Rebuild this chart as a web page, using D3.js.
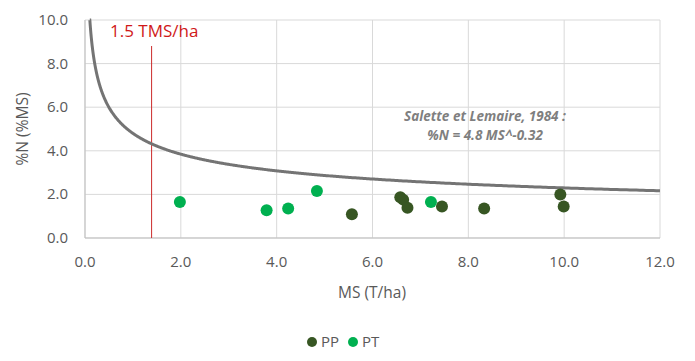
<!DOCTYPE html>
<html><head><meta charset="utf-8">
<script src="https://cdn.jsdelivr.net/npm/d3@7"></script>
<style>body{margin:0;background:#fff;} text{font-family:"Open Sans",sans-serif;}</style>
</head><body>
<svg id="c" width="695" height="361"></svg>
<script>
const ppX = [5.57, 6.58, 6.64, 6.73, 7.45, 8.33, 9.92, 9.99];
const ppY = [1.09, 1.87, 1.76, 1.39, 1.44, 1.35, 2.00, 1.44];
const ptX = [1.98, 3.79, 4.24, 4.84, 7.22];
const ptY = [1.65, 1.27, 1.35, 2.16, 1.65];
const xTicks = [0, 2, 4, 6, 8, 10, 12];
const yTicks = [0, 2, 4, 6, 8, 10];
const refA = 4.8, refB = -0.32;
const thresholdX = 1.39;

const svg = d3.select("#c");
const m = {l:85, r:660, t:20, b:238};
const x = d3.scaleLinear().domain([0,12]).range([m.l, m.r]);
const y = d3.scaleLinear().domain([0,10]).range([m.b, m.t]);

const g = svg.append("g");
g.selectAll(".gx").data(xTicks).join("line")
  .attr("x1", d=>x(d)).attr("x2", d=>x(d)).attr("y1", m.t).attr("y2", m.b)
  .attr("stroke", "#d9d9d9").attr("stroke-width", 1);
g.selectAll(".gy").data(yTicks).join("line")
  .attr("x1", m.l).attr("x2", m.r).attr("y1", d=>y(d)).attr("y2", d=>y(d))
  .attr("stroke", "#d9d9d9").attr("stroke-width", 1);
g.append("line").attr("x1", m.l).attr("x2", m.r).attr("y1", m.b).attr("y2", m.b).attr("stroke", "#bfbfbf");
g.append("line").attr("x1", m.l).attr("x2", m.l).attr("y1", m.t).attr("y2", m.b).attr("stroke", "#bfbfbf");

svg.selectAll(".xt").data(xTicks).join("text")
  .attr("x", d=>x(d)).attr("y", 267).attr("text-anchor","middle")
  .attr("font-size", 15).attr("fill", "#595959").text(d=>d.toFixed(1));
svg.selectAll(".yt").data(yTicks).join("text")
  .attr("x", 68).attr("y", d=>y(d)+5).attr("text-anchor","end")
  .attr("font-size", 15).attr("fill", "#595959").text(d=>d.toFixed(1));

svg.append("text").attr("x", 372).attr("y", 298).attr("text-anchor","middle")
  .attr("font-size", 15.5).attr("fill","#595959").text("MS (T/ha)");
svg.append("text").attr("transform","translate(28,129) rotate(-90)").attr("text-anchor","middle")
  .attr("font-size", 15.5).attr("fill","#595959").text("%N (%MS)");

svg.append("line").attr("x1", x(thresholdX)).attr("x2", x(thresholdX))
  .attr("y1", 46).attr("y2", m.b).attr("stroke", "#cc2a2a").attr("stroke-width", 1);
svg.append("text").attr("x", 110).attr("y", 37).attr("font-size", 17)
  .attr("fill", "#d01818").text("1.5 TMS/ha");

const curveX = d3.range(0, 801).map(i => 0.1 * Math.pow(120, i/800));
const line = d3.line().x(d=>x(d)).y(d=>y(Math.min(10, refA*Math.pow(d, refB))));
svg.append("path").datum(curveX.filter(d=>refA*Math.pow(d,refB)<=10.05))
  .attr("d", line).attr("fill","none").attr("stroke","#747474").attr("stroke-width", 3);

const ann = svg.append("text").attr("text-anchor","middle").attr("font-size", 13.5)
  .attr("font-weight","bold").attr("font-style","italic").attr("fill","#7f7f7f");
ann.append("tspan").attr("x", 485).attr("y", 121).text("Salette et Lemaire, 1984 :");
ann.append("tspan").attr("x", 485).attr("y", 140).text("%N = 4.8 MS^-0.32");

svg.selectAll(".pp").data(ppX).join("circle")
  .attr("cx", d=>x(d)).attr("cy", (d,i)=>y(ppY[i])).attr("r", 6).attr("fill", "#375623");
svg.selectAll(".pt").data(ptX).join("circle")
  .attr("cx", d=>x(d)).attr("cy", (d,i)=>y(ptY[i])).attr("r", 6).attr("fill", "#00b050");

const leg = [{n:"PP", c:"#375623", x:312}, {n:"PT", c:"#00b050", x:353}];
svg.selectAll(".lc").data(leg).join("circle")
  .attr("cx", d=>d.x).attr("cy", 342).attr("r", 5).attr("fill", d=>d.c);
svg.selectAll(".lt").data(leg).join("text")
  .attr("x", d=>d.x+9).attr("y", 347).attr("font-size", 15).attr("fill","#595959").text(d=>d.n);
</script>
</body></html>
